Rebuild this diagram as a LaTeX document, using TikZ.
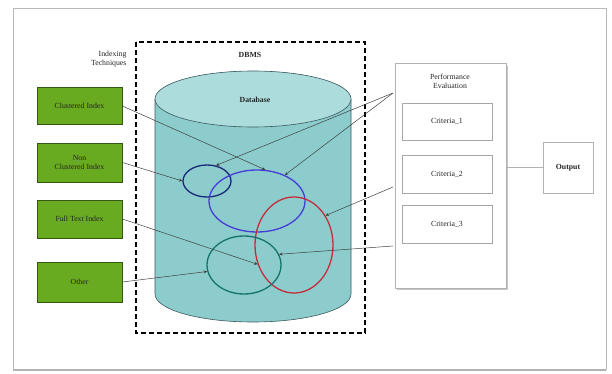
\documentclass[tikz,border=0pt]{standalone}
\usepackage{fontspec}
\setmainfont{Liberation Serif}
\usetikzlibrary{shapes.geometric,arrows.meta}
\definecolor{idxgreen}{RGB}{104,170,32}
\definecolor{idxedge}{RGB}{52,88,20}
\definecolor{cylside}{RGB}{140,204,204}
\definecolor{cyltop}{RGB}{172,220,220}
\definecolor{cyledge}{RGB}{60,90,95}
\definecolor{ringnavy}{RGB}{25,40,120}
\definecolor{ringblue}{RGB}{70,60,215}
\definecolor{ringred}{RGB}{195,45,60}
\definecolor{ringteal}{RGB}{20,115,110}
\tikzset{
  greenbox/.style={draw=idxedge, fill=idxgreen, line width=0.9pt, minimum width=85pt,
    minimum height=37pt, align=center, font=\fontsize{7.8}{8.8}\selectfont, text=black!85},
  critbox/.style={draw=gray!70, fill=white, line width=0.6pt, minimum width=90pt,
    minimum height=37pt, font=\fontsize{7.8}{8.8}\selectfont, text=black!85},
  ring/.style={ellipse, draw, line width=1.3pt, inner sep=0pt},
  link/.style={draw=black!75, line width=0.5pt, -{Stealth[length=3.5pt,width=3pt]}},
  label/.style={font=\fontsize{7.8}{8.8}\selectfont, text=black!85, align=center},
  boldlabel/.style={label, font=\fontsize{7.8}{8.8}\selectfont\bfseries},
}
\begin{document}
\begin{tikzpicture}[x=1pt,y=-1pt]
\useasboundingbox (0,0) rectangle (612,374);
\fill[white] (0,0) rectangle (612,374);
% outer frame
\draw[gray!55, line width=0.8pt] (13,8) rectangle (606,369);
\draw[gray!60, line width=2pt] (13,370) -- (606,370);

% DBMS boundary
\draw[black, line width=1.6pt, dash pattern=on 5pt off 3pt] (136,42) rectangle (365,333);
\node[boldlabel] (dbms) at (250,55) {DBMS};
\node[label, anchor=east, align=right] (itech) at (130,59) {Indexing\\Techniques};

% database cylinder
\fill[cylside] (155,99) -- (155,294) arc[start angle=180, end angle=0, x radius=98, y radius=28]
  -- (351,99) arc[start angle=0, end angle=-180, x radius=98, y radius=28] -- cycle;
\draw[cyledge, line width=0.6pt] (155,99) -- (155,294) arc[start angle=180, end angle=0, x radius=98, y radius=28] -- (351,99);
\draw[cyledge, line width=0.6pt, fill=cyltop] (253,99) ellipse[x radius=98, y radius=28];
\node[boldlabel] (db) at (255,100) {Database};

% index rings
\node[ring, draw=ringnavy, minimum width=48pt, minimum height=32pt] (e1) at (207,181) {};
\node[ring, draw=ringblue, minimum width=96pt, minimum height=62pt] (e2) at (257,201) {};
\node[ring, draw=ringred, minimum width=78pt, minimum height=96pt] (e3) at (294,245) {};
\node[ring, draw=ringteal, minimum width=74pt, minimum height=58pt] (e4) at (244,265) {};

% index techniques
\node[greenbox] (ci) at (79.5,106) {Clustered Index};
\node[greenbox, minimum height=39pt] (nci) at (79.5,162.5) {Non\\Clustered Index};
\node[greenbox, minimum height=38pt] (fti) at (79.5,219) {Full Text Index};
\node[greenbox, minimum height=40pt] (oth) at (79.5,282) {Other};

% performance evaluation
\fill[gray!45] (397,66) rectangle (508,290);
\node[draw=gray!60, fill=white, line width=0.6pt, minimum width=111pt, minimum height=225pt] (perf) at (450.5,175.5) {};
\node[label] (ptitle) at (450,81) {Performance\\Evaluation};
\node[critbox] (c1) at (447,121.5) {Criteria\_1};
\node[critbox, minimum height=38pt] (c2) at (447,174) {Criteria\_2};
\node[critbox, minimum height=38pt] (c3) at (447,224) {Criteria\_3};

% output
\node[draw=gray!60, fill=white, line width=0.6pt, minimum width=50pt, minimum height=51pt, boldlabel] (out) at (568,167.5) {Output};
\draw[gray!60, line width=0.6pt] (perf.east |- out.west) -- (out.west);

% connector ends on the evaluation side
\coordinate (pa) at (393,93);
\coordinate (pb) at (393,187);
\coordinate (pc) at (393,246);

% connectors
\draw[link] (ci.east) -- (e2.75);
\draw[link] (nci.east) -- (e1.180);
\draw[link] (fti.east) -- (e3.208);
\draw[link] (oth.east) -- (e4.190);
\draw[link] (pa) -- (e1.60);
\draw[link] (pa) -- (e2.43);
\draw[link] (pb) -- (e3.43);
\draw[link] (pc) -- (e4.17);
\end{tikzpicture}
\end{document}
